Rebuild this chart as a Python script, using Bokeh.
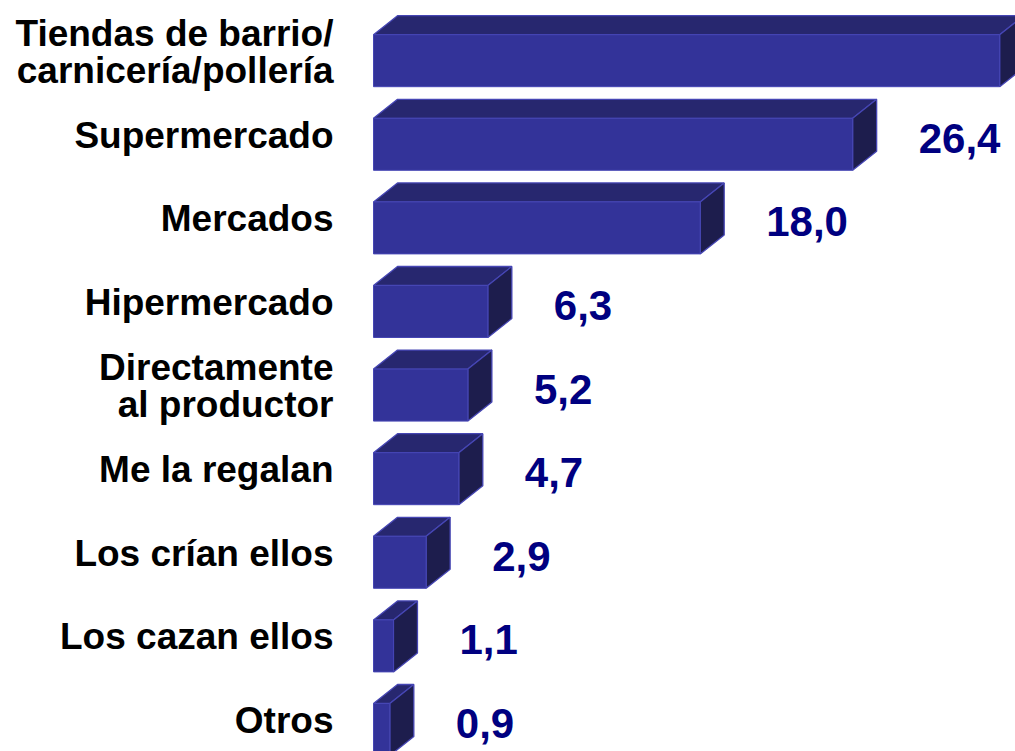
from bokeh.plotting import figure
from bokeh.models import Range1d, ColumnDataSource
from bokeh.core.properties import value
from bokeh.embed import file_html
from bokeh.resources import INLINE

# ---- data ----
categories = [
    "Tiendas de barrio/\ncarnicería/pollería",
    "Supermercado",
    "Mercados",
    "Hipermercado",
    "Directamente\nal productor",
    "Me la regalan",
    "Los crían ellos",
    "Los cazan ellos",
    "Otros",
]
values = [34.5, 26.4, 18.0, 6.3, 5.2, 4.7, 2.9, 1.1, 0.9]
value_labels = [f"{v:.1f}".replace(".", ",") for v in values]

# ---- layout constants (pixels) ----
W, H = 1015, 751
PX_PER_UNIT = 18.15          # horizontal scale
ROW_PX = 83.6                # row spacing
X0_PX = 373                  # screen position of zero
FRONT_H_PX = 52
DEPTH_X_PX = 24
DEPTH_Y_PX = 19
FIRST_ROW_CENTER_PX = 60.2

x_start = -X0_PX / PX_PER_UNIT
x_end = x_start + W / PX_PER_UNIT
y_top = -FIRST_ROW_CENTER_PX / ROW_PX
y_bottom = y_top + H / ROW_PX

p = figure(width=W, height=H, output_backend="svg", toolbar_location=None,
           x_range=Range1d(x_start, x_end), y_range=Range1d(y_bottom, y_top),
           min_border=0, min_border_left=0, min_border_right=0,
           min_border_top=0, min_border_bottom=0)
p.axis.visible = False
p.grid.visible = False
p.outline_line_color = None
p.background_fill_color = "white"
p.border_fill_color = "white"

h = FRONT_H_PX / ROW_PX
dx = DEPTH_X_PX / PX_PER_UNIT
dy = DEPTH_Y_PX / ROW_PX

front_x, front_y, top_x, top_y, side_x, side_y = [], [], [], [], [], []
for i, v in enumerate(values):
    t, b = i - h / 2, i + h / 2
    front_x.append([0, v, v, 0])
    front_y.append([t, t, b, b])
    top_x.append([0, dx, v + dx, v])
    top_y.append([t, t - dy, t - dy, t])
    side_x.append([v, v + dx, v + dx, v])
    side_y.append([t, t - dy, b - dy, b])

edge = "#4646b4"
p.patches(top_x, top_y, fill_color="#27276f", line_color=edge, line_width=1.3)
p.patches(side_x, side_y, fill_color="#1d1d4d", line_color=edge, line_width=1.3)
p.patches(front_x, front_y, fill_color="#333399", line_color=edge, line_width=1.0)

idx = list(range(len(values)))
cat_src = ColumnDataSource(dict(x=[0] * len(values), y=idx, text=categories))
p.text(x="x", y="y", text="text", source=cat_src,
       x_offset=-40, y_offset=-9,
       text_align="right", text_baseline="middle",
       text_font=value("Liberation Sans"), text_font_style="bold",
       text_font_size="37px", text_color="black", text_line_height=0.9)

# the first bar's label falls beyond the right edge in the reference, so it is not shown
val_src = ColumnDataSource(dict(x=values[1:], y=idx[1:], text=value_labels[1:]))
p.text(x="x", y="y", text="text", source=val_src,
       x_offset=66, y_offset=-6,
       text_align="left", text_baseline="middle",
       text_font=value("Liberation Sans"), text_font_style="bold",
       text_font_size="42px", text_color="#000080")

open("out.html", "w").write(file_html(p, INLINE))
